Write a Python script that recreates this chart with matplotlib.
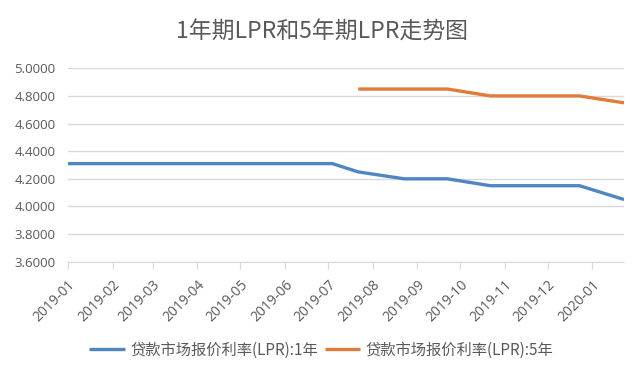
import matplotlib
matplotlib.use("Agg")
import matplotlib.pyplot as plt
import matplotlib.dates as mdates
import pandas as pd

plt.rcParams['font.family'] = ['Noto Sans CJK SC', 'DejaVu Sans']

# data
dates_1y = pd.to_datetime(["2019-01-01", "2019-07-04", "2019-07-22", "2019-08-23",
                           "2019-09-22", "2019-10-22", "2019-11-22", "2019-12-23",
                           "2020-01-23"])
lpr_1y = [4.31, 4.31, 4.25, 4.20, 4.20, 4.15, 4.15, 4.15, 4.05]

dates_5y = pd.to_datetime(["2019-07-22", "2019-08-23", "2019-09-22", "2019-10-22",
                           "2019-11-22", "2019-12-23", "2020-01-23"])
lpr_5y = [4.85, 4.85, 4.85, 4.80, 4.80, 4.80, 4.75]

title = "1年期LPR和5年期LPR走势图"
label_1y = "贷款市场报价利率(LPR):1年"
label_5y = "贷款市场报价利率(LPR):5年"
y_ticks = [3.6, 3.8, 4.0, 4.2, 4.4, 4.6, 4.8, 5.0]

BLUE = "#4f86c1"
ORANGE = "#e07b39"
GRAY = "#595959"
GRID = "#d9d9d9"

fig = plt.figure(figsize=(6.43, 3.78), dpi=100)
fig.patch.set_facecolor("white")
ax = fig.add_axes([0.1058, 0.3077, 0.8647, 0.5116])

ax.plot(dates_1y, lpr_1y, color=BLUE, lw=2.4, label=label_1y, solid_capstyle="butt")
ax.plot(dates_5y, lpr_5y, color=ORANGE, lw=2.4, label=label_5y, solid_capstyle="butt")

ax.set_ylim(3.6, 5.0)
ax.set_yticks(y_ticks)
ax.set_yticklabels([f"{v:.4f}" for v in y_ticks])
ax.set_xlim(dates_1y[0], dates_1y[-1])
ax.xaxis.set_major_locator(mdates.MonthLocator())
ax.xaxis.set_major_formatter(mdates.DateFormatter("%Y-%m"))

ax.grid(axis="y", color=GRID, lw=1)
ax.set_axisbelow(True)
for s in ["top", "right", "left"]:
    ax.spines[s].set_visible(False)
ax.spines["bottom"].set_color(GRID)
ax.tick_params(axis="y", length=0, pad=9, labelsize=9.5, labelcolor=GRAY)
ax.tick_params(axis="x", length=5, color=GRID, direction="out", pad=6,
               labelsize=10, labelcolor=GRAY)
for lab in ax.get_xticklabels():
    lab.set_rotation(45)
    lab.set_ha("right")
    lab.set_rotation_mode("anchor")
for lab in ax.get_xticklabels() + ax.get_yticklabels():
    lab.set_family(["Open Sans", "DejaVu Sans"])

fig.text(0.5, 0.915, title, ha="center", va="center", fontsize=16.5, color=GRAY)

fig.legend(loc="center", bbox_to_anchor=(0.5, 0.074), ncol=2, frameon=False,
           fontsize=11, labelcolor=GRAY, handlelength=2.3, columnspacing=0.4,
           handletextpad=0.4)

fig.savefig("out.png", dpi=100, facecolor="white")
